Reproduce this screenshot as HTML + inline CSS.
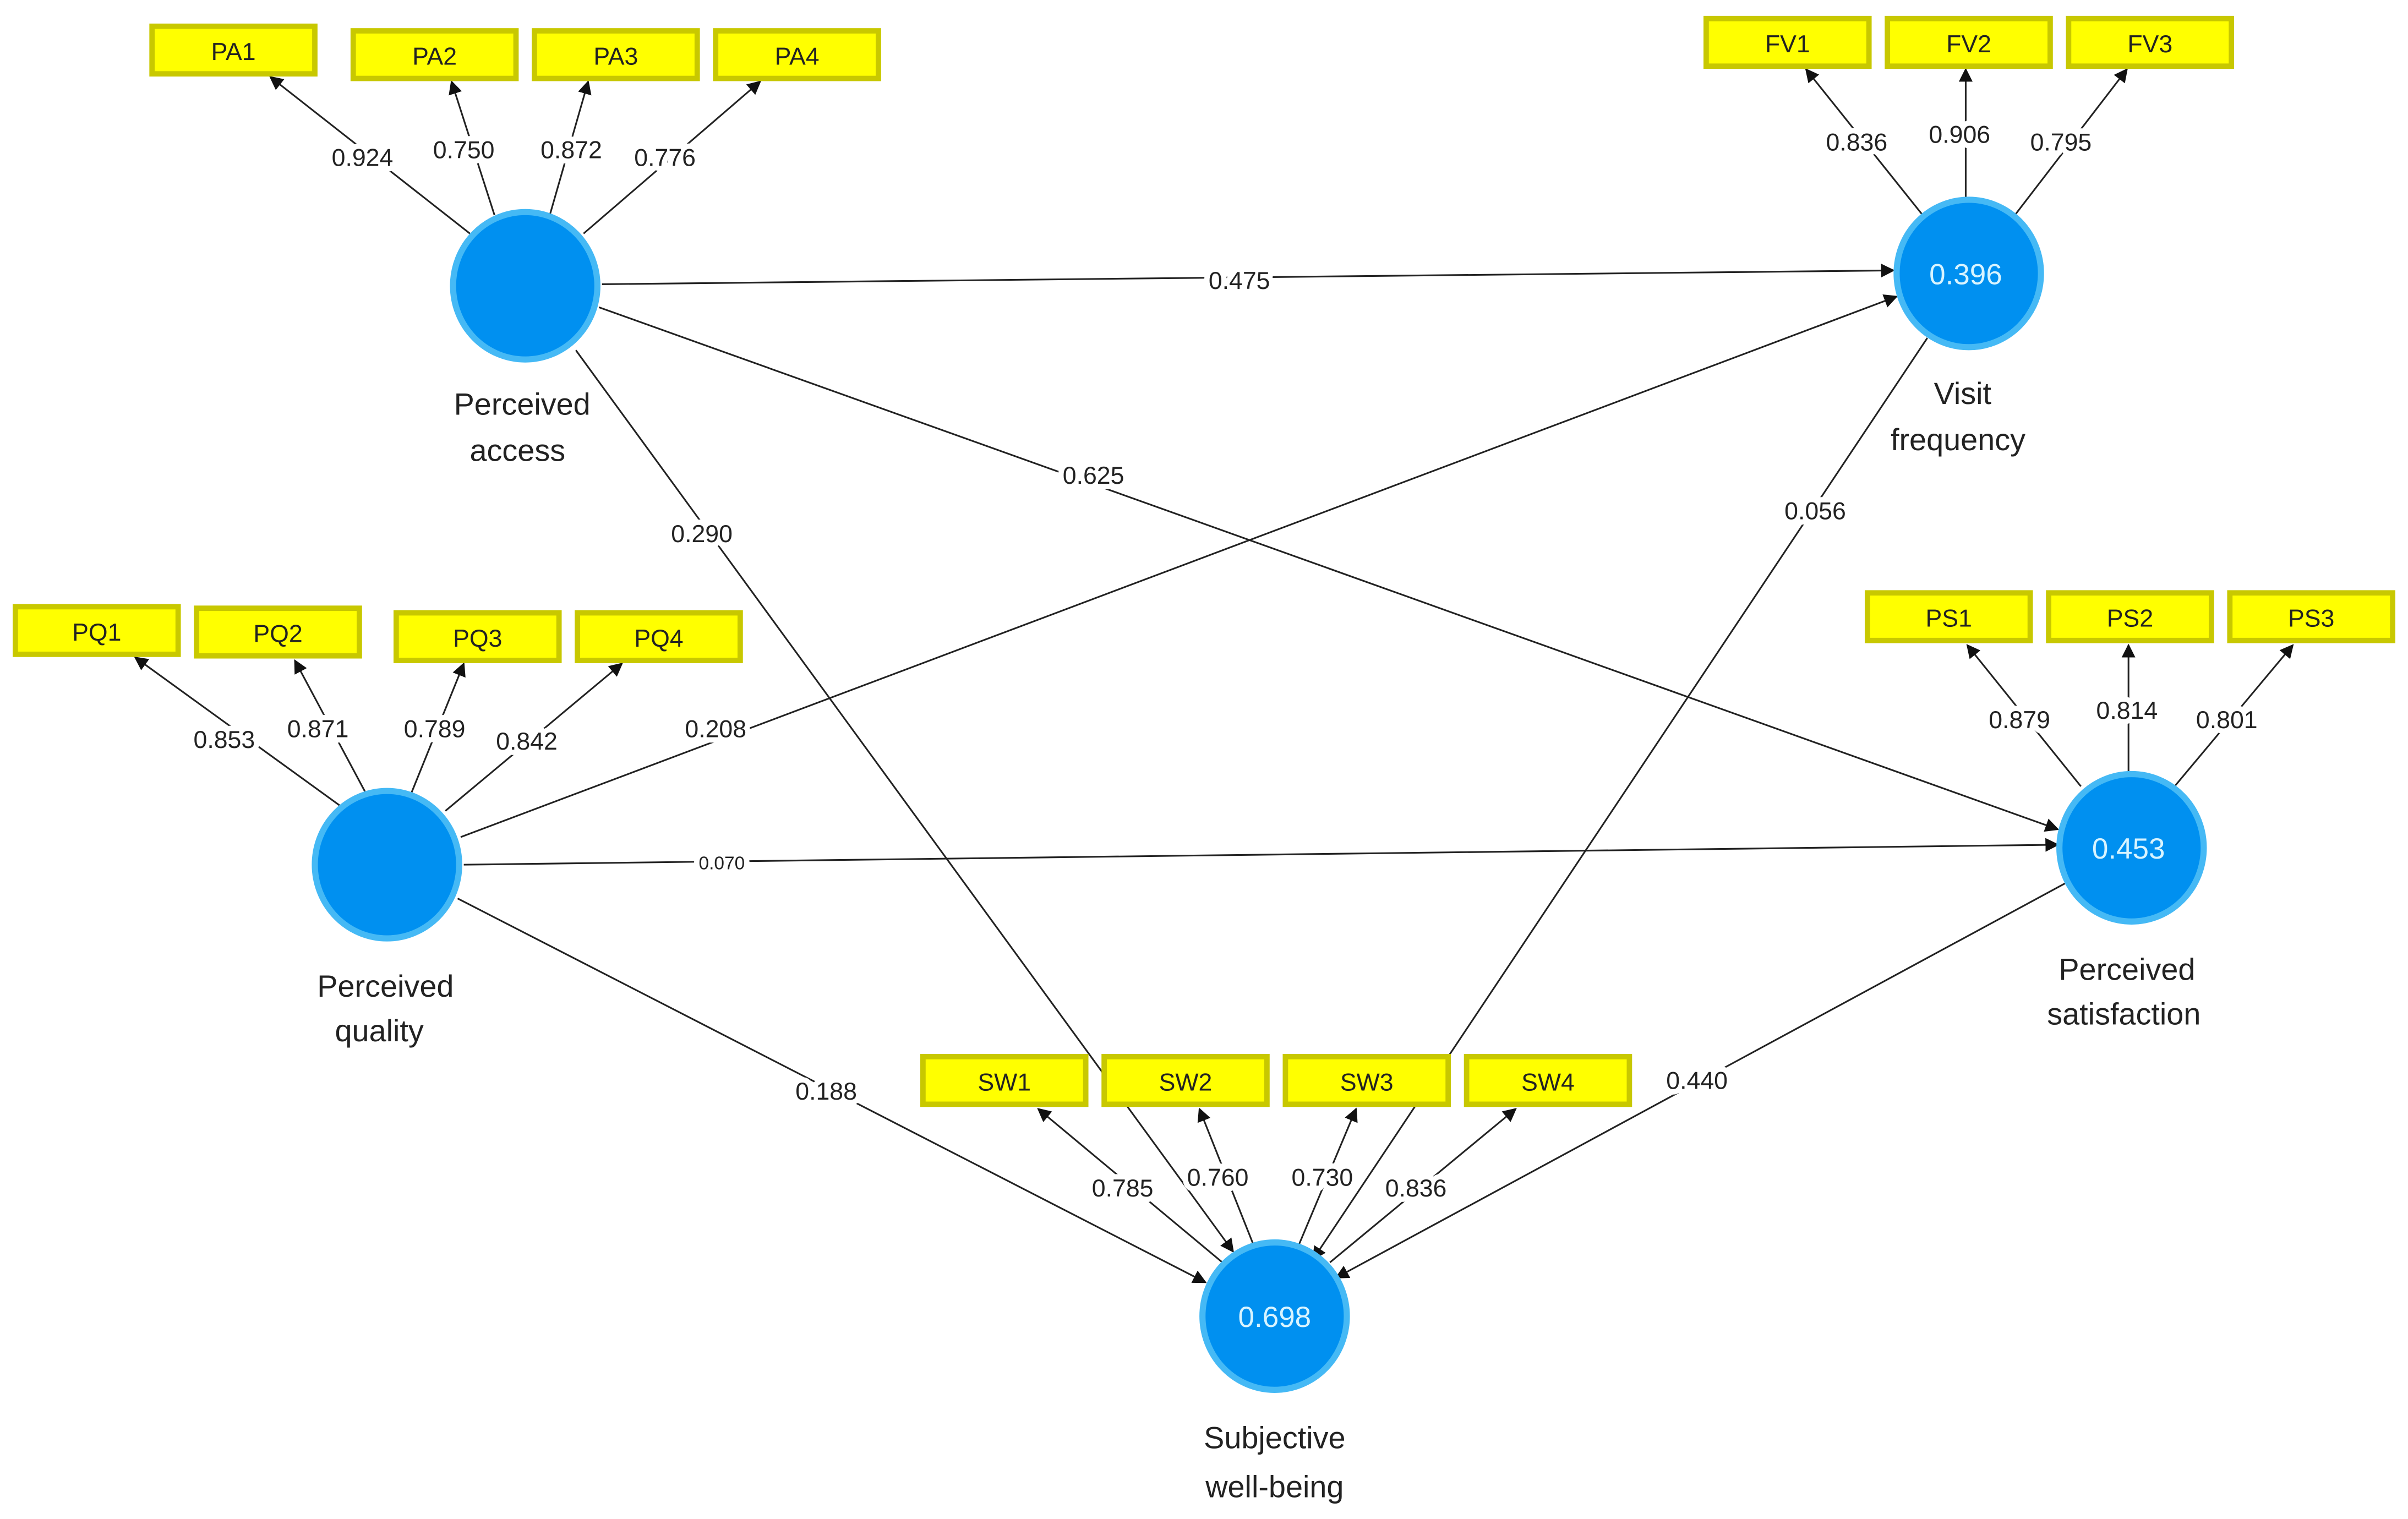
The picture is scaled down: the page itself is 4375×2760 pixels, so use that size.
<!DOCTYPE html>
<html><head><meta charset="utf-8"><style>
html,body{margin:0;padding:0;background:#fff}
svg{display:block}
text{font-family:"Liberation Sans",sans-serif;}
.b{fill:#ffff00;stroke:#c8c800;stroke-width:3.5}
.bt{font-size:16px;fill:#222;text-anchor:middle}
.l{stroke:#222;stroke-width:1.1;fill:none}
.n{font-size:16px;fill:#222;text-anchor:middle;stroke:#fff;stroke-width:7px;paint-order:stroke;stroke-linejoin:round}
.c{fill:#0090f0;stroke:#45b9f5;stroke-width:4}
.ct{font-size:19px;fill:#d8f4ff;text-anchor:middle}
.lab{font-size:20px;fill:#222;text-anchor:middle}
</style></head><body>
<svg width="4375" height="2760" viewBox="0 0 1568 989" xmlns="http://www.w3.org/2000/svg">
<defs><marker id="a" viewBox="0 0 10 10" refX="9" refY="5" markerWidth="9" markerHeight="9" orient="auto" markerUnits="userSpaceOnUse"><path d="M0,0 L10,5 L0,10 z" fill="#111"/></marker></defs>
<rect width="1568" height="989" fill="#fff"/>
<!-- structural paths -->
<g class="l" marker-end="url(#a)">
<line x1="392" y1="185" x2="1233" y2="176"/>
<line x1="390" y1="200" x2="1340" y2="540"/>
<line x1="375" y1="228" x2="803" y2="815"/>
<line x1="300" y1="545" x2="1235" y2="193"/>
<line x1="302" y1="563" x2="1340" y2="550"/>
<line x1="298" y1="585" x2="785" y2="835"/>
<line x1="1255" y1="220" x2="855" y2="820"/>
<line x1="1345" y1="575" x2="870" y2="832"/>
</g>
<!-- loadings -->
<g class="l" marker-end="url(#a)">
<line x1="306" y1="152" x2="176" y2="50"/>
<line x1="322" y1="140" x2="294" y2="53"/>
<line x1="358" y1="140" x2="383" y2="53"/>
<line x1="380" y1="152" x2="495" y2="53"/>
<line x1="1252" y1="140" x2="1176" y2="45"/>
<line x1="1280" y1="130" x2="1280" y2="45"/>
<line x1="1312" y1="140" x2="1385" y2="45"/>
<line x1="222" y1="525" x2="88" y2="428"/>
<line x1="238" y1="516" x2="192" y2="430"/>
<line x1="268" y1="516" x2="302" y2="432"/>
<line x1="290" y1="528" x2="405" y2="432"/>
<line x1="1355" y1="512" x2="1281" y2="420"/>
<line x1="1386" y1="504" x2="1386" y2="420"/>
<line x1="1416" y1="512" x2="1493" y2="420"/>
<line x1="796" y1="822" x2="676" y2="722"/>
<line x1="816" y1="810" x2="781" y2="722"/>
<line x1="846" y1="810" x2="883" y2="722"/>
<line x1="866" y1="822" x2="987" y2="722"/>
</g>
<!-- boxes -->
<g>
<rect class="b" x="99" y="17" width="106" height="31"/><text class="bt" x="152" y="39">PA1</text>
<rect class="b" x="230" y="20" width="106" height="31"/><text class="bt" x="283" y="42">PA2</text>
<rect class="b" x="348" y="20" width="106" height="31"/><text class="bt" x="401" y="42">PA3</text>
<rect class="b" x="466" y="20" width="106" height="31"/><text class="bt" x="519" y="42">PA4</text>
<rect class="b" x="1111" y="12" width="106" height="31"/><text class="bt" x="1164" y="34">FV1</text>
<rect class="b" x="1229" y="12" width="106" height="31"/><text class="bt" x="1282" y="34">FV2</text>
<rect class="b" x="1347" y="12" width="106" height="31"/><text class="bt" x="1400" y="34">FV3</text>
<rect class="b" x="10" y="395" width="106" height="31"/><text class="bt" x="63" y="417">PQ1</text>
<rect class="b" x="128" y="396" width="106" height="31"/><text class="bt" x="181" y="418">PQ2</text>
<rect class="b" x="258" y="399" width="106" height="31"/><text class="bt" x="311" y="421">PQ3</text>
<rect class="b" x="376" y="399" width="106" height="31"/><text class="bt" x="429" y="421">PQ4</text>
<rect class="b" x="1216" y="386" width="106" height="31"/><text class="bt" x="1269" y="408">PS1</text>
<rect class="b" x="1334" y="386" width="106" height="31"/><text class="bt" x="1387" y="408">PS2</text>
<rect class="b" x="1452" y="386" width="106" height="31"/><text class="bt" x="1505" y="408">PS3</text>
<rect class="b" x="601" y="688" width="106" height="31"/><text class="bt" x="654" y="710">SW1</text>
<rect class="b" x="719" y="688" width="106" height="31"/><text class="bt" x="772" y="710">SW2</text>
<rect class="b" x="837" y="688" width="106" height="31"/><text class="bt" x="890" y="710">SW3</text>
<rect class="b" x="955" y="688" width="106" height="31"/><text class="bt" x="1008" y="710">SW4</text>
</g>
<!-- labels on paths -->
<g>
<text class="n" x="236" y="108">0.924</text>
<text class="n" x="302" y="103">0.750</text>
<text class="n" x="372" y="103">0.872</text>
<text class="n" x="433" y="108">0.776</text>
<text class="n" x="1209" y="98">0.836</text>
<text class="n" x="1276" y="93">0.906</text>
<text class="n" x="1342" y="98">0.795</text>
<text class="n" x="146" y="487">0.853</text>
<text class="n" x="207" y="480">0.871</text>
<text class="n" x="283" y="480">0.789</text>
<text class="n" x="343" y="488">0.842</text>
<text class="n" x="1315" y="474">0.879</text>
<text class="n" x="1385" y="468">0.814</text>
<text class="n" x="1450" y="474">0.801</text>
<text class="n" x="731" y="779">0.785</text>
<text class="n" x="793" y="772">0.760</text>
<text class="n" x="861" y="772">0.730</text>
<text class="n" x="922" y="779">0.836</text>
<text class="n" x="807" y="188">0.475</text>
<text class="n" x="712" y="315">0.625</text>
<text class="n" x="457" y="353">0.290</text>
<text class="n" x="466" y="480">0.208</text>
<text class="n" x="470" y="566" style="font-size:12px">0.070</text>
<text class="n" x="538" y="716">0.188</text>
<text class="n" x="1182" y="338">0.056</text>
<text class="n" x="1105" y="709">0.440</text>
</g>
<!-- circles -->
<ellipse class="c" cx="342" cy="186" rx="47" ry="48"/>
<ellipse class="c" cx="1282" cy="178" rx="47" ry="48"/><text class="ct" x="1280" y="185">0.396</text>
<ellipse class="c" cx="252" cy="563" rx="47" ry="48"/>
<ellipse class="c" cx="1388" cy="552" rx="47" ry="48"/><text class="ct" x="1386" y="559">0.453</text>
<ellipse class="c" cx="830" cy="857" rx="47" ry="48"/><text class="ct" x="830" y="864">0.698</text>
<!-- node labels -->
<text class="lab" x="340" y="270">Perceived</text><text class="lab" x="337" y="300">access</text>
<text class="lab" x="1278" y="263">Visit</text><text class="lab" x="1275" y="293">frequency</text>
<text class="lab" x="251" y="649">Perceived</text><text class="lab" x="247" y="678">quality</text>
<text class="lab" x="1385" y="638">Perceived</text><text class="lab" x="1383" y="667">satisfaction</text>
<text class="lab" x="830" y="943">Subjective</text><text class="lab" x="830" y="975">well-being</text>
</svg>
</body></html>
